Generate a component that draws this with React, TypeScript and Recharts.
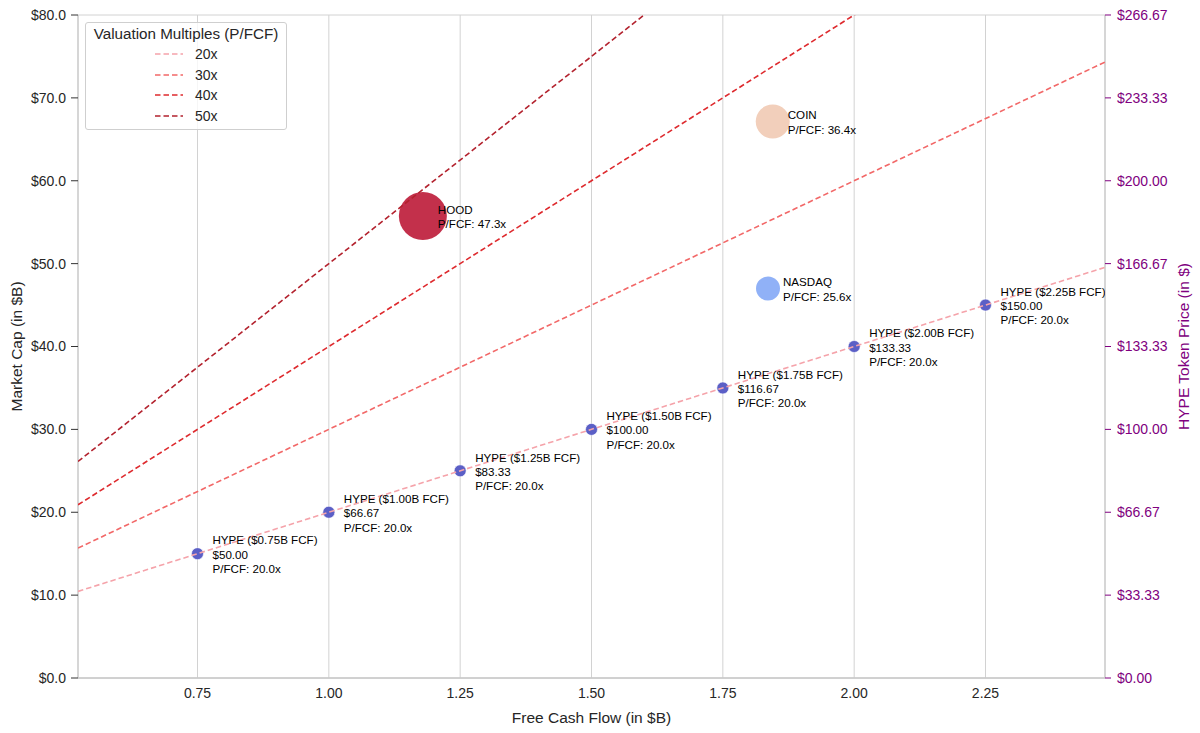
import {
  ComposedChart,
  Scatter,
  XAxis,
  YAxis,
  CartesianGrid,
} from "recharts";

// valuation multiple lines (market cap = multiple x FCF)
const MULTIPLES = [20, 30, 40, 50];
const MULTIPLE_COLORS = ["#f5a3aa", "#f26868", "#de2a2e", "#b3222e"];
const LINE_X = [0.5225, 2.4775];

// HYPE scenarios
const HYPE_FCF = [0.75, 1.0, 1.25, 1.5, 1.75, 2.0, 2.25];
const HYPE_MCAP = [15, 20, 25, 30, 35, 40, 45];
const HYPE_PRICE = [50.0, 66.67, 83.33, 100.0, 116.67, 133.33, 150.0];
const HYPE_PFCF = [20.0, 20.0, 20.0, 20.0, 20.0, 20.0, 20.0];

// comparables
const COMP_NAMES = ["HOOD", "COIN", "NASDAQ"];
const COMP_FCF = [1.179, 1.845, 1.836];
const COMP_MCAP = [55.75, 67.15, 47.0];
const COMP_PFCF = [47.3, 36.4, 25.6];

const X_TICKS = [0.75, 1.0, 1.25, 1.5, 1.75, 2.0, 2.25];
const Y_TICKS = [0, 10, 20, 30, 40, 50, 60, 70, 80];
const PRICE_TICKS = [0, 33.33, 66.67, 100, 133.33, 166.67, 200, 233.33, 266.67];

const COMP_STYLE: Record<string, { r: number; fill: string }> = {
  HOOD: { r: 24, fill: "#c3304b" },
  COIN: { r: 17, fill: "#f2cfbb" },
  NASDAQ: { r: 12, fill: "#90b1f7" },
};

const FONT = "'Liberation Sans', Arial, sans-serif";
const PURPLE = "#800080";

const hypeData = HYPE_FCF.map((fcf, i) => ({
  fcf,
  mcap: HYPE_MCAP[i],
  name: "HYPE",
  lines: [
    `HYPE ($${fcf.toFixed(2)}B FCF)`,
    `$${HYPE_PRICE[i].toFixed(2)}`,
    `P/FCF: ${HYPE_PFCF[i].toFixed(1)}x`,
  ],
}));

const compData = COMP_NAMES.map((name, i) => ({
  fcf: COMP_FCF[i],
  mcap: COMP_MCAP[i],
  name,
  lines: [name, `P/FCF: ${COMP_PFCF[i].toFixed(1)}x`],
}));

const lineData = MULTIPLES.map((m) =>
  LINE_X.map((x) => ({ fcf: x, mcap: m * x }))
);

const Dot = (props: any) => {
  const { cx, cy, payload } = props;
  const s = COMP_STYLE[payload.name];
  if (s) return <circle cx={cx} cy={cy} r={s.r} fill={s.fill} />;
  return <circle cx={cx} cy={cy} r={6} fill="#5b5fc6" stroke="#fff" strokeWidth={0.6} />;
};

const Tag = (props: any) => {
  const { cx, cy, payload } = props;
  const n = payload.lines.length;
  const lh = 14.3;
  const y0 = cy - ((n - 1) * lh) / 2;
  return (
    <text
      x={cx + 15}
      y={y0}
      fontSize={11.6}
      fontFamily={FONT}
      fill="#000"
      dominantBaseline="central"
    >
      {payload.lines.map((t: string, i: number) => (
        <tspan key={i} x={cx + 15} y={y0 + i * lh}>
          {t}
        </tspan>
      ))}
    </text>
  );
};

const LegendBox = () => (
  <div
    style={{
      position: "absolute",
      top: 22,
      left: 85,
      width: 200,
      height: 104,
      border: "1px solid #cfcfcf",
      borderRadius: 3,
      background: "rgba(255,255,255,0.8)",
      fontFamily: FONT,
      paddingTop: 2,
      color: "#262626",
      boxSizing: "content-box",
    }}
  >
    <div style={{ fontSize: 15.2, textAlign: "center", height: 19 }}>
      Valuation Multiples (P/FCF)
    </div>
    {MULTIPLES.map((m, i) => (
      <div
        key={m}
        style={{ display: "flex", alignItems: "center", height: 20.6, paddingLeft: 68 }}
      >
        <svg width={30} height={8}>
          <line
            x1={1}
            y1={4}
            x2={29}
            y2={4}
            stroke={MULTIPLE_COLORS[i]}
            strokeWidth={1.6}
            strokeDasharray="5.5 3"
          />
        </svg>
        <span style={{ fontSize: 14, marginLeft: 11 }}>{m}x</span>
      </div>
    ))}
  </div>
);

export default function App() {
  return (
    <div style={{ position: "relative", width: 1200, height: 733, background: "#fff" }}>
      <style>{`body{margin:0}`}</style>
      <ComposedChart
        width={1200}
        height={733}
        margin={{ top: 15, right: 0, bottom: 0, left: 0 }}
        style={{ fontFamily: FONT }}
      >
        <CartesianGrid stroke="#d2d2d2" strokeWidth={1} verticalValues={X_TICKS} />
        <XAxis
          dataKey="fcf"
          type="number"
          domain={[LINE_X[0], LINE_X[1]]}
          ticks={X_TICKS}
          tickFormatter={(v: number) => v.toFixed(2)}
          allowDataOverflow
          tickLine={false}
          tickSize={8}
          tickMargin={2}
          axisLine={{ stroke: "#c8c8c8", strokeWidth: 1.5 }}
          tick={{ fill: "#262626", fontSize: 14 }}
          height={55}
          label={{
            value: "Free Cash Flow (in $B)",
            position: "insideBottom",
            offset: 10,
            style: { fill: "#262626", fontSize: 15.5 },
          }}
        />
        <YAxis
          yAxisId="left"
          dataKey="mcap"
          type="number"
          domain={[0, 80]}
          ticks={Y_TICKS}
          allowDataOverflow
          tickFormatter={(v: number) => `$${v.toFixed(1)}`}
          width={78}
          tickSize={7}
          tickMargin={5}
          tickLine={{ stroke: "#333" }}
          axisLine={{ stroke: "#c8c8c8", strokeWidth: 1.5 }}
          tick={{ fill: "#262626", fontSize: 14 }}
          label={{
            value: "Market Cap (in $B)",
            angle: -90,
            position: "insideLeft",
            offset: 16,
            style: { fill: "#262626", fontSize: 15.5, textAnchor: "middle" },
          }}
        />
        <YAxis
          yAxisId="right"
          orientation="right"
          type="number"
          domain={[0, 800 / 3]}
          ticks={PRICE_TICKS}
          allowDataOverflow
          tickFormatter={(v: number) => `$${v.toFixed(2)}`}
          width={95}
          tickSize={6}
          tickMargin={6}
          tickLine={{ stroke: PURPLE }}
          axisLine={{ stroke: "#c8c8c8", strokeWidth: 1.5 }}
          tick={{ fill: PURPLE, fontSize: 14 }}
          label={{
            value: "HYPE Token Price (in $)",
            angle: -90,
            position: "insideRight",
            offset: 17,
            style: { fill: PURPLE, fontSize: 15.5, textAnchor: "middle" },
          }}
        />
        <Scatter
          yAxisId="left"
          data={compData}
          shape={Dot}
          isAnimationActive={false}
          legendType="none"
        />
        <Scatter
          yAxisId="left"
          data={hypeData}
          shape={Dot}
          isAnimationActive={false}
          legendType="none"
        />
        {lineData.map((d, i) => (
          <Scatter
            key={MULTIPLES[i]}
            yAxisId="left"
            data={d}
            line={{
              stroke: MULTIPLE_COLORS[i],
              strokeWidth: 1.6,
              strokeDasharray: "5.5 3",
            }}
            shape={() => null}
            isAnimationActive={false}
            legendType="none"
          />
        ))}
        <Scatter
          yAxisId="left"
          data={[...compData, ...hypeData]}
          shape={Tag}
          isAnimationActive={false}
          legendType="none"
        />
      </ComposedChart>
      <LegendBox />
    </div>
  );
}
